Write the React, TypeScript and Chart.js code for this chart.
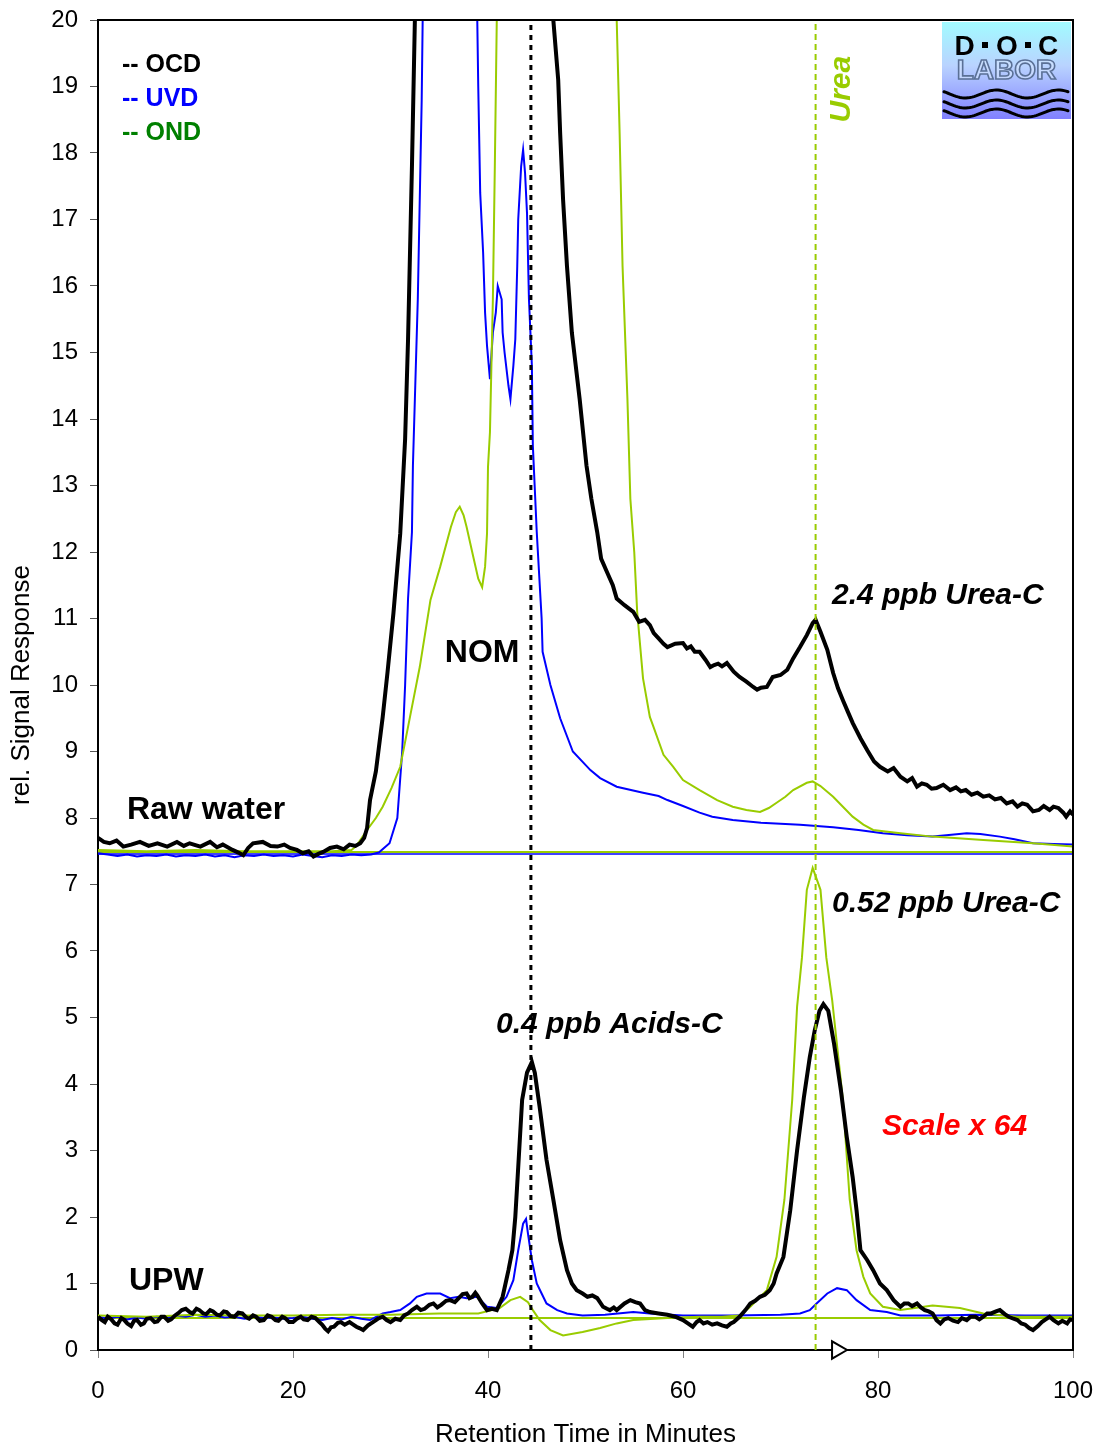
import React, { useEffect, useRef } from 'react';
import { Chart, registerables } from 'chart.js';

Chart.register(...registerables);

type P = [number, number];

const FONT = '"Liberation Sans", Arial, Helvetica, sans-serif';

// axis ranges / ticks
const xMin = 0;
const xMax = 100;
const xStep = 20;
const yMin = 0;
const yMax = 20;
const yStep = 1;

// Raw water traces (offset baseline ~7.5)
const rawOcd: P[] = [
  [0, 7.7], [0.6, 7.64], [1.2, 7.62], [1.9, 7.66], [2.6, 7.57], [3.4, 7.6], [4.3, 7.64], [5.2, 7.58], [6.1, 7.62],
  [7.1, 7.57], [8.1, 7.64], [8.8, 7.58], [9.4, 7.62], [10.5, 7.57], [11.5, 7.64], [12.2, 7.56], [12.8, 7.6],
  [13.8, 7.52], [14.4, 7.48], [14.9, 7.44], [15.4, 7.55], [15.9, 7.62], [16.9, 7.64], [17.7, 7.58], [18.4, 7.57],
  [19.1, 7.6], [19.7, 7.55], [20.4, 7.52], [21.0, 7.47], [21.6, 7.5], [22.1, 7.42], [22.6, 7.46], [23.1, 7.49],
  [23.8, 7.55], [24.5, 7.57], [25.2, 7.53], [25.8, 7.6], [26.4, 7.58], [26.9, 7.62], [27.3, 7.7], [27.6, 7.85],
  [27.9, 8.27], [28.5, 8.7], [29.2, 9.52], [29.7, 10.2], [30.3, 11.08], [31.0, 12.28], [31.5, 13.7], [31.8, 15.2],
  [32.0, 16.5], [32.2, 17.8], [32.5, 20], [33.0, 23], [35, 27], [40, 30], [44, 28], [46, 22], [46.7, 20],
  [47.2, 19.1], [47.4, 18.3], [47.7, 17.3], [48.1, 16.3], [48.6, 15.3], [49.0, 14.8], [49.4, 14.3], [50.1, 13.3],
  [50.6, 12.8], [51.2, 12.3], [51.6, 11.9], [52.2, 11.7], [52.8, 11.5], [53.2, 11.3], [54.0, 11.2], [54.9, 11.1],
  [55.5, 10.95], [56.1, 10.98], [56.6, 10.9], [57.0, 10.78], [57.5, 10.7], [58.0, 10.62], [58.4, 10.57],
  [59.2, 10.62], [60.0, 10.63], [60.4, 10.55], [60.8, 10.58], [61.2, 10.5], [61.7, 10.5], [62.3, 10.38],
  [62.8, 10.27], [63.2, 10.3], [63.6, 10.32], [64.0, 10.28], [64.5, 10.33], [65.2, 10.2], [65.8, 10.12],
  [66.5, 10.05], [67.2, 9.97], [67.6, 9.93], [68.0, 9.96], [68.6, 9.97], [69.2, 10.12], [70.0, 10.15],
  [70.7, 10.23], [71.3, 10.4], [72.0, 10.57], [72.7, 10.75], [73.3, 10.93], [73.6, 10.98], [74.1, 10.8],
  [74.8, 10.53], [75.4, 10.18], [75.9, 9.95], [76.4, 9.77], [76.9, 9.6], [77.4, 9.43], [78.2, 9.2], [78.9, 9.02],
  [79.6, 8.85], [80.2, 8.77], [81.0, 8.7], [81.6, 8.75], [82.3, 8.62], [83.0, 8.55], [83.5, 8.6], [84.0, 8.47],
  [84.5, 8.52], [85.0, 8.5], [85.5, 8.44], [86.0, 8.45], [86.7, 8.5], [87.4, 8.42], [88.0, 8.46], [88.5, 8.4],
  [89.0, 8.42], [89.6, 8.35], [90.2, 8.38], [90.8, 8.32], [91.4, 8.34], [92.0, 8.28], [92.6, 8.3], [93.2, 8.22],
  [93.8, 8.25], [94.3, 8.17], [94.8, 8.22], [95.3, 8.2], [95.9, 8.1], [96.5, 8.12], [97.0, 8.18], [97.6, 8.12],
  [98.0, 8.17], [98.5, 8.15], [99.0, 8.08], [99.3, 8.02], [99.7, 8.1], [100, 8.05],
];

const rawUvd: P[] = [
  [0, 7.47], [1, 7.45], [2, 7.43], [3, 7.45], [4, 7.42], [5, 7.44], [6, 7.43], [7, 7.45], [8, 7.42], [9, 7.44],
  [10, 7.43], [11, 7.45], [12, 7.42], [13, 7.44], [14, 7.41], [15, 7.44], [16, 7.43], [17, 7.45], [18, 7.43],
  [19, 7.44], [20, 7.42], [21, 7.45], [22, 7.43], [23, 7.41], [24, 7.44], [25, 7.43], [26, 7.45], [27, 7.44],
  [28, 7.45], [28.8, 7.48], [29.9, 7.62], [30.7, 8.0], [31.2, 9.0], [31.5, 10.0], [31.8, 11.3], [32.2, 12.3],
  [32.3, 13.3], [32.5, 14.3], [32.8, 15.8], [33.0, 17.3], [33.2, 18.8], [33.3, 20], [34, 24], [36, 26], [38, 24],
  [38.9, 20], [39.0, 19.0], [39.2, 17.4], [39.5, 16.5], [39.7, 15.6], [39.9, 15.1], [40.2, 14.6], [40.5, 15.3],
  [40.8, 15.6], [41.0, 16.0], [41.4, 15.8], [41.5, 15.3], [41.7, 15.0], [42.1, 14.5], [42.3, 14.3], [42.6, 14.8],
  [42.8, 15.2], [43.0, 16.3], [43.1, 17.0], [43.4, 17.8], [43.6, 18.05], [43.8, 17.7], [44.0, 17.1], [44.2, 15.8],
  [44.5, 14.8], [44.6, 13.6], [45.0, 12.3], [45.5, 11.0], [45.6, 10.5], [46.4, 10.0], [47.4, 9.5], [48.7, 9.0],
  [50.5, 8.72], [51.5, 8.6], [53.2, 8.47], [55.9, 8.38], [57.5, 8.33], [58.4, 8.27], [60, 8.18], [61.7, 8.08],
  [63, 8.02], [65.1, 7.97], [68, 7.93], [72.0, 7.9], [75.4, 7.86], [78, 7.82], [80.5, 7.77], [83, 7.74],
  [85.6, 7.72], [87, 7.74], [89.1, 7.77], [90.5, 7.76], [92.5, 7.72], [94, 7.68], [95.9, 7.62], [98, 7.61],
  [100, 7.6],
];

const rawOnd: P[] = [
  [0, 7.52], [5, 7.5], [10, 7.52], [15, 7.5], [20, 7.5], [24, 7.5], [26, 7.52], [26.5, 7.58], [27.6, 7.82],
  [28.5, 8.0], [29.2, 8.17], [30.1, 8.45], [31.0, 8.77], [32.0, 9.52], [33.0, 10.27], [34.1, 11.28],
  [35.1, 11.78], [36.2, 12.38], [36.7, 12.6], [37.1, 12.68], [37.5, 12.55], [37.8, 12.38], [38.5, 11.92],
  [39.0, 11.6], [39.4, 11.47], [39.7, 11.78], [39.9, 12.28], [40.0, 13.28], [40.2, 13.8], [40.5, 15.8],
  [40.7, 17.8], [40.9, 20], [42, 26], [47, 30], [52, 26], [53.2, 20], [53.5, 18.3], [53.8, 16.3], [54.3, 14.3],
  [54.6, 12.8], [55.0, 12.0], [55.3, 11.1], [55.9, 10.1], [56.6, 9.52], [56.9, 9.4], [58.0, 8.95], [59.0, 8.77],
  [60.0, 8.57], [61.7, 8.42], [63.5, 8.27], [65.1, 8.17], [66.5, 8.12], [67.9, 8.09], [68.8, 8.15], [69.6, 8.23],
  [70.5, 8.32], [71.3, 8.42], [72.7, 8.53], [73.3, 8.55], [74.1, 8.48], [75.4, 8.32], [76.4, 8.17], [77.4, 8.02],
  [78.5, 7.9], [79.5, 7.82], [82.3, 7.77], [85.6, 7.72], [90.8, 7.67], [95.9, 7.62], [100, 7.57],
];

// UPW traces (Scale x 64, baseline ~0.5)
const upwOcd: P[] = [
  [0, 0.5], [0.4, 0.45], [0.7, 0.42], [1.0, 0.5], [1.3, 0.47], [1.7, 0.4], [2, 0.38], [2.4, 0.48], [2.7, 0.45],
  [3.0, 0.4], [3.4, 0.36], [3.7, 0.44], [4, 0.45], [4.4, 0.38], [4.7, 0.4], [5.0, 0.47], [5.4, 0.48],
  [5.8, 0.42], [6.1, 0.43], [6.5, 0.5], [6.8, 0.5], [7.2, 0.44], [7.5, 0.46], [7.9, 0.52], [8.2, 0.55],
  [8.6, 0.6], [9, 0.62], [9.4, 0.57], [9.7, 0.55], [10.1, 0.62], [10.4, 0.6], [10.8, 0.55], [11.1, 0.54],
  [11.5, 0.6], [11.8, 0.58], [12.2, 0.53], [12.5, 0.52], [12.9, 0.58], [13.2, 0.57], [13.6, 0.51], [14, 0.5],
  [14.4, 0.56], [14.8, 0.55], [15.2, 0.49], [15.5, 0.47], [15.9, 0.52], [16.2, 0.5], [16.6, 0.44], [17, 0.45],
  [17.4, 0.52], [17.8, 0.5], [18.2, 0.45], [18.5, 0.44], [18.9, 0.5], [19.2, 0.48], [19.6, 0.42], [20, 0.42],
  [20.4, 0.47], [20.8, 0.5], [21.1, 0.46], [21.5, 0.45], [21.9, 0.5], [22.3, 0.48], [22.7, 0.42], [23, 0.38],
  [23.3, 0.32], [23.6, 0.28], [23.9, 0.34], [24.2, 0.35], [24.6, 0.41], [24.9, 0.42], [25.3, 0.38], [25.8, 0.42],
  [26.1, 0.39], [26.5, 0.35], [26.8, 0.33], [27.2, 0.3], [27.7, 0.37], [28.2, 0.42], [28.7, 0.47], [29.2, 0.5],
  [29.6, 0.45], [30, 0.42], [30.5, 0.47], [31.0, 0.45], [31.4, 0.52], [31.8, 0.55], [32.2, 0.6], [32.7, 0.65],
  [33.1, 0.6], [33.5, 0.62], [34.0, 0.68], [34.4, 0.7], [34.8, 0.64], [35.2, 0.68], [35.7, 0.74], [36.1, 0.75],
  [36.6, 0.72], [37, 0.78], [37.4, 0.84], [37.8, 0.85], [38.1, 0.78], [38.4, 0.8], [38.7, 0.86], [38.9, 0.82],
  [39.4, 0.7], [39.9, 0.6], [40.4, 0.62], [40.9, 0.6], [41.5, 0.8], [42.1, 1.2], [42.5, 1.5], [42.8, 2.0],
  [43.1, 2.75], [43.5, 3.76], [44.0, 4.17], [44.5, 4.33], [44.8, 4.17], [45.3, 3.65], [46.0, 2.86],
  [46.7, 2.26], [47.4, 1.65], [48.1, 1.2], [48.6, 1.0], [49.1, 0.9], [49.7, 0.85], [50.2, 0.8], [50.7, 0.82],
  [51.2, 0.78], [51.8, 0.65], [52.2, 0.62], [52.5, 0.6], [52.9, 0.64], [53.2, 0.6], [54, 0.7], [54.6, 0.75],
  [55.1, 0.72], [55.6, 0.7], [56.1, 0.6], [56.6, 0.57], [57.5, 0.55], [58.4, 0.53], [59.2, 0.5], [60.0, 0.45],
  [60.5, 0.4], [61.0, 0.35], [61.4, 0.42], [61.7, 0.45], [62.1, 0.4], [62.5, 0.42], [63.0, 0.38], [63.5, 0.4],
  [64.0, 0.37], [64.5, 0.35], [64.9, 0.4], [65.2, 0.42], [65.8, 0.5], [66.4, 0.6], [66.9, 0.7], [67.4, 0.74],
  [67.9, 0.8], [68.4, 0.83], [68.9, 0.9], [69.3, 1.0], [69.6, 1.15], [70.3, 1.4], [71.0, 2.1], [71.7, 3.0],
  [72.4, 3.8], [73.0, 4.4], [73.5, 4.8], [74.0, 5.1], [74.4, 5.2], [74.9, 5.1], [75.5, 4.6], [76.2, 3.9],
  [76.8, 3.2], [77.4, 2.6], [77.8, 2.1], [78.2, 1.5], [78.9, 1.35], [79.5, 1.2], [80.2, 1.0], [80.9, 0.9],
  [81.6, 0.75], [82.3, 0.65], [82.7, 0.7], [83.1, 0.7], [83.5, 0.66], [84.0, 0.7], [84.4, 0.64], [84.8, 0.6],
  [85.2, 0.58], [85.6, 0.55], [86.0, 0.45], [86.4, 0.4], [86.8, 0.46], [87.2, 0.48], [87.7, 0.44], [88.2, 0.42],
  [88.6, 0.48], [89.1, 0.45], [89.5, 0.5], [90, 0.5], [90.4, 0.46], [90.8, 0.5], [91.2, 0.55], [91.6, 0.55],
  [92.1, 0.58], [92.5, 0.6], [93.0, 0.54], [93.4, 0.5], [93.9, 0.47], [94.3, 0.45], [94.7, 0.4], [95.1, 0.38],
  [95.5, 0.33], [95.9, 0.3], [96.4, 0.36], [96.8, 0.42], [97.2, 0.46], [97.6, 0.5], [98.0, 0.45], [98.5, 0.4],
  [98.9, 0.44], [99.4, 0.4], [99.7, 0.46], [100, 0.45],
];

const upwUvd: P[] = [
  [0, 0.5], [1, 0.47], [2, 0.5], [3, 0.46], [4, 0.49], [5, 0.47], [6, 0.5], [7, 0.48], [8, 0.52], [9, 0.5],
  [10, 0.53], [11, 0.5], [12, 0.52], [13, 0.49], [14, 0.5], [15, 0.47], [16, 0.5], [17, 0.48], [18, 0.49],
  [19, 0.47], [20, 0.48], [21, 0.5], [22, 0.47], [23, 0.45], [24, 0.48], [25, 0.46], [26, 0.5], [27, 0.47],
  [27.9, 0.45], [29.2, 0.55], [30, 0.57], [31.0, 0.6], [32, 0.7], [32.7, 0.8], [33.7, 0.85], [35.1, 0.85],
  [36.1, 0.78], [37, 0.8], [37.8, 0.78], [38.9, 0.8], [39.9, 0.65], [40.9, 0.63], [41.9, 0.8], [42.6, 1.05],
  [43.1, 1.5], [43.6, 1.9], [43.9, 1.97], [44.1, 1.75], [44.5, 1.35], [45.0, 1.0], [45.5, 0.85], [46.0, 0.7],
  [47.1, 0.6], [48.1, 0.55], [49.7, 0.52], [52, 0.53], [54.9, 0.57], [56.6, 0.55], [60, 0.52], [65, 0.52],
  [70, 0.53], [72.0, 0.55], [73.0, 0.6], [73.7, 0.7], [74.8, 0.85], [75.8, 0.93], [76.8, 0.9], [77.8, 0.75],
  [79.2, 0.6], [80.9, 0.57], [82.3, 0.52], [86, 0.52], [90, 0.53], [95, 0.52], [100, 0.52],
];

const upwOnd: P[] = [
  [0, 0.52], [5, 0.5], [10, 0.53], [15, 0.52], [20, 0.52], [25, 0.53], [30, 0.53], [35, 0.55], [39, 0.55],
  [41.2, 0.63], [42.3, 0.75], [43.3, 0.8], [44.1, 0.72], [44.6, 0.6], [45.3, 0.45], [46.4, 0.3], [47.7, 0.22],
  [49.7, 0.27], [51.5, 0.33], [53.2, 0.4], [54.9, 0.45], [58.4, 0.48], [61.7, 0.5], [64, 0.5], [65.8, 0.52],
  [66.9, 0.65], [68.6, 0.9], [69.6, 1.4], [70.4, 2.26], [71.2, 3.76], [71.7, 5.16], [72.2, 5.9], [72.7, 6.92],
  [73.3, 7.25], [74.1, 6.92], [74.7, 5.9], [75.3, 5.26], [76.4, 3.76], [77.1, 2.26], [77.8, 1.5], [78.5, 1.1],
  [79.2, 0.85], [80.5, 0.65], [82.3, 0.6], [85.6, 0.67], [88.4, 0.63], [90.8, 0.55], [94.3, 0.5], [100, 0.5],
];

// reference levels / retention-time markers
const rawZeroUvd = 7.46;
const rawZeroOnd = 7.49;
const upwZeroOnd = 0.48;
const acidsRT = 44.4;
const ureaRT = 73.6;
const markerRT = 75.8;

// legend entries [text, colour, y]
const legendItems: [string, string, number][] = [
  ['-- OCD', '#000000', 19.35],
  ['-- UVD', '#0000FF', 18.84],
  ['-- OND', '#008000', 18.33],
];
const legendX = 2.46;

const COL_OCD = '#000000';
const COL_UVD = '#0000FF';
const COL_OND = '#99CC00';

const toXY = (a: P[]) => a.map(([x, y]) => ({ x, y }));

function drawLogo(ctx: CanvasRenderingContext2D, x: number, y: number, w: number, h: number) {
  ctx.save();
  const g = ctx.createLinearGradient(0, y, 0, y + h);
  g.addColorStop(0, '#a2fbff');
  g.addColorStop(0.45, '#b9d3ff');
  g.addColorStop(1, '#8080ff');
  ctx.fillStyle = g;
  ctx.fillRect(x, y, w, h);

  ctx.fillStyle = '#000';
  ctx.font = `bold 28px ${FONT}`;
  ctx.textAlign = 'center';
  ctx.textBaseline = 'alphabetic';
  ctx.fillText('D', x + 22.5, y + 33);
  ctx.fillText('O', x + 65, y + 33);
  ctx.fillText('C', x + 106, y + 33);
  ctx.fillRect(x + 40, y + 20, 6, 6);
  ctx.fillRect(x + 83, y + 20, 6, 6);

  ctx.font = `bold 28px ${FONT}`;
  ctx.lineWidth = 1.6;
  ctx.strokeStyle = '#5a7096';
  ctx.fillStyle = 'rgba(215,232,255,0.55)';
  ctx.fillText('LABOR', x + w / 2, y + 57);
  ctx.strokeText('LABOR', x + w / 2, y + 57);

  ctx.strokeStyle = '#000';
  ctx.lineWidth = 3;
  ctx.lineCap = 'round';
  const centers = [72, 82, 91];
  centers.forEach((c) => {
    ctx.beginPath();
    for (let px = 0; px <= w - 4; px += 2) {
      const yy = y + c + 4 * Math.sin((px / 62) * Math.PI * 2 - 0.6);
      if (px === 0) ctx.moveTo(x + 2 + px, yy);
      else ctx.lineTo(x + 2 + px, yy);
    }
    ctx.stroke();
  });
  ctx.restore();
}

const decorPlugin = {
  id: 'decor',
  afterDraw(chart: any) {
    const { ctx, chartArea: a, scales } = chart;
    const sx = scales.x;
    const sy = scales.y;
    const X = (v: number) => sx.getPixelForValue(v);
    const Y = (v: number) => sy.getPixelForValue(v);
    ctx.save();
    // frame
    ctx.strokeStyle = '#000';
    ctx.lineWidth = 2;
    ctx.beginPath();
    ctx.moveTo(a.left, a.top);
    ctx.lineTo(a.right, a.top);
    ctx.lineTo(a.right, a.bottom);
    ctx.stroke();

    drawLogo(ctx, a.right - 131, a.top + 2, 129, 97);

    const text = (t: string, x: number, y: number, font: string, color: string, align: CanvasTextAlign = 'left') => {
      ctx.font = font;
      ctx.fillStyle = color;
      ctx.textAlign = align;
      ctx.textBaseline = 'middle';
      ctx.fillText(t, X(x), Y(y) + 2);
    };

    legendItems.forEach(([t, c, yy]) => text(t, legendX, yy, `bold 25px ${FONT}`, c));
    text('NOM', 39.4, 10.51, `bold 32px ${FONT}`, '#000', 'center');
    text('Raw water', 2.97, 8.15, `bold 32px ${FONT}`, '#000');
    text('UPW', 3.18, 1.07, `bold 32px ${FONT}`, '#000');
    text('2.4 ppb Urea-C', 75.28, 11.37, `italic bold 30px ${FONT}`, '#000');
    text('0.52 ppb Urea-C', 75.28, 6.74, `italic bold 30px ${FONT}`, '#000');
    text('0.4 ppb Acids-C', 40.82, 4.92, `italic bold 30px ${FONT}`, '#000');
    text('Scale x 64', 80.41, 3.38, `italic bold 30px ${FONT}`, '#FF0000');

    ctx.save();
    ctx.translate(X(76.1) + 2, Y(18.96));
    ctx.rotate(-Math.PI / 2);
    ctx.font = `italic bold 30px ${FONT}`;
    ctx.fillStyle = COL_OND;
    ctx.textAlign = 'center';
    ctx.textBaseline = 'middle';
    ctx.fillText('Urea', 0, 0);
    ctx.restore();

    ctx.restore();
  },
};

export default function App() {
  const ref = useRef<HTMLCanvasElement | null>(null);
  useEffect(() => {
    document.body.style.margin = '0';
    if (!ref.current) return;
    const line = (data: P[], color: string, width: number, extra: any = {}) => ({
      data: toXY(data),
      borderColor: color,
      backgroundColor: color,
      borderWidth: width,
      pointRadius: 0,
      tension: 0,
      fill: false,
      ...extra,
    });
    const chart = new Chart(ref.current, {
      type: 'line',
      data: {
        datasets: [
          {
            data: [{ x: markerRT, y: 0 }],
            showLine: false,
            pointStyle: 'triangle',
            rotation: 90,
            pointRadius: 10,
            pointBackgroundColor: '#ffffff',
            pointBorderColor: '#000000',
            pointBorderWidth: 2,
            clip: false,
          } as any,
          line([[acidsRT, yMin], [acidsRT, yMax]], '#000000', 3, { borderDash: [5, 5] }),
          line([[ureaRT, yMin], [ureaRT, yMax]], COL_OND, 2, { borderDash: [6, 4] }),
          line(upwOcd, COL_OCD, 4),
          line(rawOcd, COL_OCD, 4),
          line(upwOnd, COL_OND, 2),
          line(rawOnd, COL_OND, 2),
          line(upwUvd, COL_UVD, 2),
          line(rawUvd, COL_UVD, 2),
          line([[xMin, upwZeroOnd], [xMax, upwZeroOnd]], COL_OND, 2),
          line([[xMin, rawZeroOnd], [xMax, rawZeroOnd]], COL_OND, 2),
          line([[xMin, rawZeroUvd], [xMax, rawZeroUvd]], COL_UVD, 1.5),
        ],
      },
      options: {
        animation: false,
        responsive: false,
        devicePixelRatio: 1,
        layout: { padding: { top: 20, right: 30, left: 0, bottom: 0 } },
        plugins: { legend: { display: false }, tooltip: { enabled: false } },
        scales: {
          x: {
            type: 'linear',
            min: xMin,
            max: xMax,
            afterFit: (s: any) => {
              s.height = 100;
              s.paddingLeft = 0;
              s.paddingRight = 0;
            },
            ticks: { stepSize: xStep, color: '#000', font: { family: FONT, size: 24 }, padding: 19, maxRotation: 0 },
            grid: { drawOnChartArea: false, drawTicks: true, tickLength: 8, color: '#808080', tickColor: '#808080' },
            border: { display: true, color: '#000', width: 2 },
            title: {
              display: true,
              text: 'Retention Time in Minutes',
              color: '#000',
              font: { family: FONT, size: 26 },
              padding: { top: 0, bottom: 0 },
            },
          },
          y: {
            type: 'linear',
            min: yMin,
            max: yMax,
            afterFit: (s: any) => {
              s.width = 98;
              s.paddingTop = 0;
              s.paddingBottom = 0;
            },
            ticks: { stepSize: yStep, color: '#000', font: { family: FONT, size: 24 }, padding: 12 },
            grid: { drawOnChartArea: false, drawTicks: true, tickLength: 8, color: '#555', tickColor: '#555' },
            border: { display: true, color: '#000', width: 2 },
            title: {
              display: true,
              text: 'rel. Signal Response',
              color: '#000',
              font: { family: FONT, size: 26 },
              padding: { top: 6, bottom: 0 },
            },
          },
        },
      } as any,
      plugins: [decorPlugin],
    });
    return () => chart.destroy();
  }, []);
  return (
    <div style={{ position: 'absolute', left: 0, top: 0 }}>
      <canvas ref={ref} width={1103} height={1450} style={{ display: 'block' }} />
    </div>
  );
}
